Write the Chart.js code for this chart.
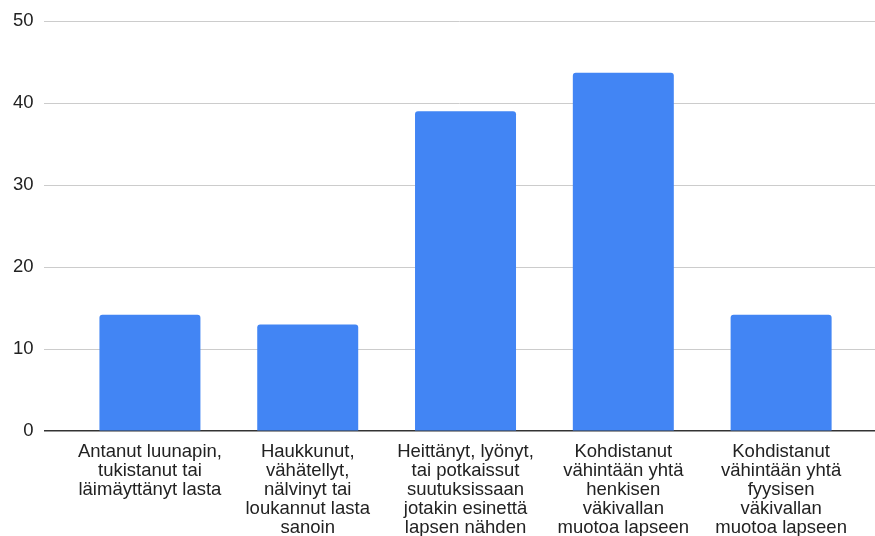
<!DOCTYPE html>
<html>
<head>
<meta charset="utf-8">
<script src="https://cdn.jsdelivr.net/npm/chart.js@4/dist/chart.umd.min.js"></script>
<style>
  html, body { margin: 0; padding: 0; background: #fff; }
  #wrap { width: 875px; height: 536px; position: relative; }
</style>
</head>
<body>
<div id="wrap"><canvas id="chart"></canvas></div>
<script>
// categories, one array of lines per bar (line breaks as in the original)
const categories = [
    ['Antanut luunapin,', 'tukistanut tai', 'läimäyttänyt lasta'],
    ['Haukkunut,', 'vähätellyt,', 'nälvinyt tai', 'loukannut lasta', 'sanoin'],
    ['Heittänyt, lyönyt,', 'tai potkaissut', 'suutuksissaan', 'jotakin esinettä', 'lapsen nähden'],
    ['Kohdistanut', 'vähintään yhtä', 'henkisen', 'väkivallan', 'muotoa lapseen'],
    ['Kohdistanut', 'vähintään yhtä', 'fyysisen', 'väkivallan', 'muotoa lapseen'],
];
const values = [14.2, 13.0, 39.0, 43.7, 14.2];
const yTicks = [0, 10, 20, 30, 40, 50];

const font = { family: '"Liberation Sans", Arial, sans-serif', size: 18.5, lineHeight: 1.03 };

const chart = new Chart(document.getElementById('chart'), {
    type: 'bar',
    data: {
        datasets: [{
            data: values.map((v, i) => ({ x: i, y: v })),
            backgroundColor: '#4285f4',
            borderRadius: { topLeft: 3, topRight: 3 },
            borderSkipped: 'bottom',
            categoryPercentage: 1,
            barPercentage: 0.64,
        }]
    },
    options: {
        responsive: true,
        maintainAspectRatio: false,
        animation: false,
        layout: { padding: { left: 3, top: 21, right: 0, bottom: -4.5 } },
        plugins: { legend: { display: false }, tooltip: { enabled: false } },
        scales: {
            x: {
                type: 'linear',
                offset: false,
                min: -0.674,
                max: 4.595,
                afterBuildTicks: (s) => { s.ticks = categories.map((_, i) => ({ value: i })); },
                grid: { display: false },
                border: { display: false },
                ticks: {
                    autoSkip: false,
                    maxRotation: 0,
                    padding: 3,
                    color: '#222',
                    font: font,
                    callback: (v) => categories[v] || '',
                },
            },
            y: {
                min: 0,
                max: 50,
                afterBuildTicks: (s) => { s.ticks = yTicks.map(v => ({ value: v })); },
                border: { display: false },
                grid: {
                    drawTicks: false,
                    color: (c) => c.tick && c.tick.value === 0 ? '#333' : '#cccccc',
                    lineWidth: (c) => c.tick && c.tick.value === 0 ? 1.5 : 1,
                },
                ticks: { padding: 10, color: '#222', font: font },
            },
        },
    },
});
</script>
</body>
</html>
